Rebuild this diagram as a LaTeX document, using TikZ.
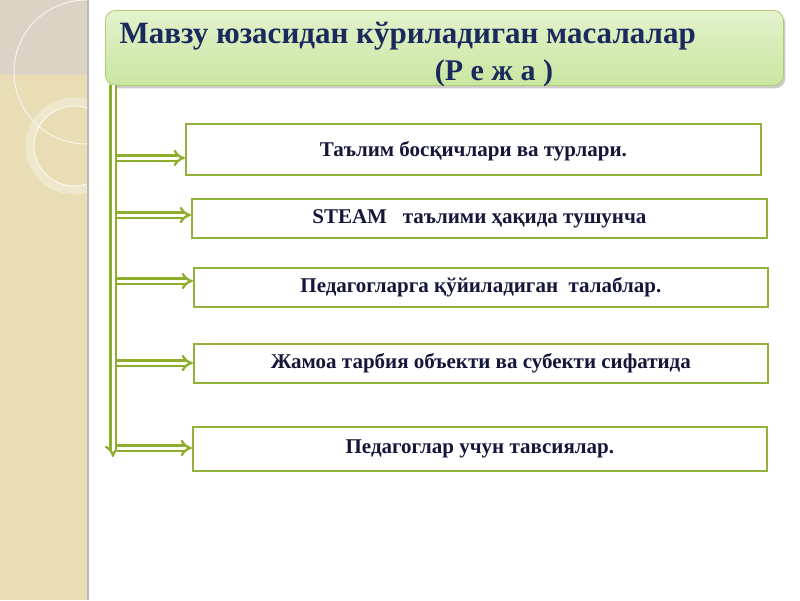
\documentclass[tikz,border=0pt]{standalone}
\usepackage{fontspec}
\setmainfont{Liberation Serif}
\usetikzlibrary{arrows.meta,shadows}
\definecolor{strip}{HTML}{E9DDB6}
\definecolor{stripgrey}{HTML}{DDD3C4}
\definecolor{olive}{HTML}{93B23A}
\definecolor{arrowgreen}{HTML}{8CAE2C}
\definecolor{titlenavy}{HTML}{1B2A5E}
\definecolor{boxtext}{HTML}{14163A}
\definecolor{gtop}{HTML}{E3F2CC}
\definecolor{gbot}{HTML}{C9E6A0}
\tikzset{
  itembox/.style={draw=olive, line width=1.8pt, fill=white, minimum height=#1, inner sep=0pt},
  itemtext/.style={font=\bfseries\fontsize{21}{24}\selectfont, text=boxtext},
  dblarrow/.style={draw=arrowgreen, line width=2.3pt, double=white, double distance=3pt, -{Implies}},
}
\begin{document}
\begin{tikzpicture}[x=1pt,y=-1pt]
\useasboundingbox (0,0) rectangle (800,600);
\fill[white] (0,0) rectangle (800,600);
% left strip
\fill[strip] (0,0) rectangle (87,600);
\begin{scope}
\clip (0,0) rectangle (87,600);
\fill[stripgrey] (0,0) rectangle (87,75);
\draw[white, opacity=0.7, line width=1pt] (86,72) circle[radius=72];
\draw[white, opacity=0.3, line width=9pt] (74,146) circle[radius=44];
\draw[white, opacity=0.8, line width=0.8pt] (74,146) circle[radius=40];
\end{scope}
\fill[gray!55] (87,0) rectangle (89,600);
% title box
\node[draw=olive!70, line width=0.8pt, rounded corners=10pt, minimum width=678pt, minimum height=75pt,
  top color=gtop, bottom color=gbot, drop shadow={opacity=0.4, shadow xshift=2pt, shadow yshift=-3pt},
  anchor=north west, inner sep=0pt] (title) at (105,10) {};
\node[anchor=base west, font=\bfseries\fontsize{31}{34}\selectfont, text=titlenavy] (t1) at (116,43) {Мавзу юзасидан кўриладиган масалалар};
\node[anchor=base, font=\bfseries\fontsize{30}{34}\selectfont, text=titlenavy] (t2) at (494,80) {(Р е ж а )};
% item boxes
\node[itembox=51pt, minimum width=575pt, anchor=north west] (b1) at (185,123) {};
\node[itemtext] at ([yshift=-2pt]b1.center) {Таълим босқичлари ва турлари.};
\node[itembox=39pt, minimum width=575pt, anchor=north west] (b2) at (191,198) {};
\node[itemtext] at (b2.center) {STEAM \ \ таълими ҳақида тушунча};
\node[itembox=39pt, minimum width=574pt, anchor=north west] (b3) at (193,267) {};
\node[itemtext] at (b3.center) {Педагогларга қўйиладиган \ талаблар.};
\node[itembox=39pt, minimum width=574pt, anchor=north west] (b4) at (193,343) {};
\node[itemtext] at (b4.center) {Жамоа тарбия объекти ва субекти сифатида};
\node[itembox=44pt, minimum width=574pt, anchor=north west] (b5) at (192,426) {};
\node[itemtext] at (b5.center) {Педагоглар учун тавсиялар.};
% connectors
\coordinate (vtop) at (113,85);
\coordinate (vbot) at (113,457);
\draw[dblarrow] (vtop) -- (vbot);
\foreach \b/\y in {b1/158, b2/215, b3/281, b4/363, b5/448}{
  \coordinate (s\b) at (117,\y);
  \draw[dblarrow] (s\b) -- (\b.west |- s\b);
}
\end{tikzpicture}
\end{document}
